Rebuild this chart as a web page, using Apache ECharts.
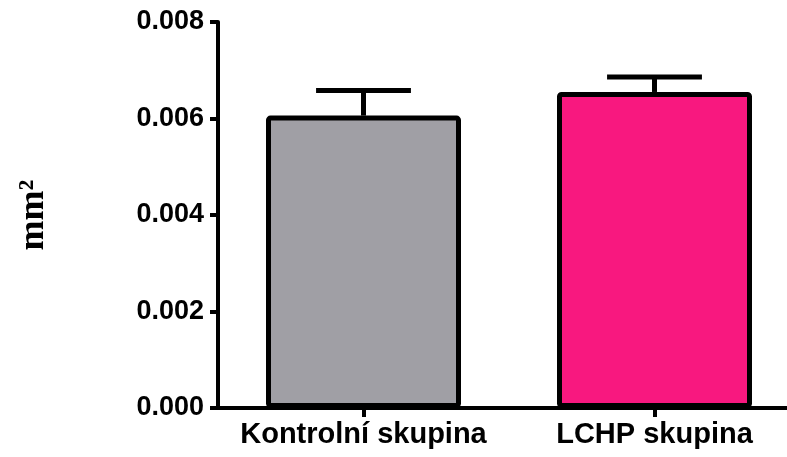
<!DOCTYPE html>
<html>
<head>
<meta charset="utf-8">
<script src="https://cdn.jsdelivr.net/npm/echarts@6/dist/echarts.min.js"></script>
<style>
  html, body { margin: 0; padding: 0; background: #fff; }
  #chart { width: 787px; height: 457px; }
</style>
</head>
<body>
<div id="chart"></div>
<script>
var categories = ['Kontrolní skupina', 'LCHP skupina'];
var means = [0.00606, 0.00655];
var errTop = [0.00658, 0.00686];
var barColors = ['#a09fa5', '#f8187f'];
var yTicks = [0, 0.002, 0.004, 0.006, 0.008];

var chart = echarts.init(document.getElementById('chart'));

chart.setOption({
    animation: false,
    grid: { left: 218, width: 582, top: 22, bottom: 49, outerBoundsMode: 'none', containLabel: false },
    xAxis: {
        type: 'category',
        data: categories,
        axisLine: { lineStyle: { color: '#000', width: 4 } },
        axisTick: { show: true, interval: 0, alignWithLabel: true, length: 9, lineStyle: { color: '#000', width: 4 } },
        axisLabel: {
            interval: 0,
            color: '#000', fontFamily: 'Liberation Sans', fontWeight: 'bold',
            fontSize: 29, margin: 12
        }
    },
    yAxis: {
        type: 'value',
        min: yTicks[0],
        max: yTicks[yTicks.length - 1],
        interval: 0.002,
        name: 'mm²',
        nameLocation: 'middle',
        nameRotate: 90,
        nameGap: 166,
        nameTextStyle: {
            color: '#000', fontFamily: 'Liberation Serif', fontWeight: 'bold', fontSize: 36
        },
        splitLine: { show: false },
        axisLine: { show: true, lineStyle: { color: '#000', width: 4 } },
        axisTick: { show: true, length: 8, lineStyle: { color: '#000', width: 4 } },
        axisLabel: {
            color: '#000', fontFamily: 'Liberation Sans', fontWeight: 'bold',
            fontSize: 27, margin: 14,
            formatter: function (v) { return v.toFixed(3); }
        }
    },
    series: [{
        type: 'bar',
        barWidth: 195,
        data: means.map(function (v, i) {
            return {
                value: v,
                itemStyle: { color: barColors[i], borderColor: '#000', borderWidth: 5, borderRadius: 2 }
            };
        }),
        z: 2
    }, {
        type: 'custom',
        z: 3,
        data: means.map(function (v, i) { return [i, v, errTop[i]]; }),
        renderItem: function (params, api) {
            var p0 = api.coord([api.value(0), api.value(1)]);
            var p1 = api.coord([api.value(0), api.value(2)]);
            var half = api.size([1, 0])[0] * 0.163;
            var style = { stroke: '#000', lineWidth: 5 };
            return {
                type: 'group',
                children: [{
                    type: 'line',
                    shape: { x1: p0[0], y1: p0[1], x2: p1[0], y2: p1[1] },
                    style: style
                }, {
                    type: 'line',
                    shape: { x1: p1[0] - half, y1: p1[1], x2: p1[0] + half, y2: p1[1] },
                    style: style
                }]
            };
        }
    }]
});
</script>
</body>
</html>
